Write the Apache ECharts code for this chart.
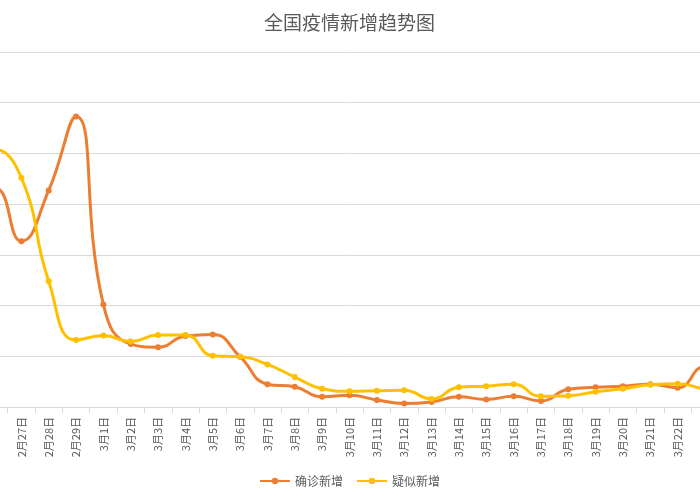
<!DOCTYPE html>
<html>
<head>
<meta charset="utf-8">
<title>全国疫情新增趋势图</title>
<script src="https://cdn.jsdelivr.net/npm/echarts@6/dist/echarts.min.js"></script>
<style>
    html, body {margin: 0; padding: 0; width: 700px; height: 500px; overflow: hidden; background: #fff;}
    /* 图表比窗口宽, 左右两端被裁掉 */
    #graphic {position: absolute; left: -47px; top: 0; width: 793px; height: 500px;}
</style>
</head>
<body>
<div id="graphic"></div>
<script>
// 日期
var days = [
    '2月25日', '2月26日', '2月27日', '2月28日', '2月29日',
    '3月1日', '3月2日', '3月3日', '3月4日', '3月5日', '3月6日', '3月7日', '3月8日',
    '3月9日', '3月10日', '3月11日', '3月12日', '3月13日', '3月14日', '3月15日', '3月16日',
    '3月17日', '3月18日', '3月19日', '3月20日', '3月21日', '3月22日', '3月23日', '3月24日'
];
// 确诊新增
var confirmed = [
    406, 433, 327, 427, 573,
    202, 124, 118, 140, 143, 99, 45, 40,
    20, 23, 14, 7, 10, 20, 15, 21,
    12, 35, 39, 41, 45, 38, 80, 47
];
// 疑似新增
var suspected = [
    440, 508, 452, 248, 132,
    141, 129, 142, 142, 101, 99, 84, 59,
    36, 31, 32, 33, 16, 39, 41, 45,
    21, 22, 30, 36, 44, 46, 35, 30
];
var yTicks = {min: 0, max: 700, interval: 100};

var font = 'Noto Sans CJK SC';
var gray = '#595959';
var lineGray = '#D9D9D9';

function lineSeries(name, data, color){
    return {
        name: name,
        type: 'line',
        smooth: true,
        symbol: 'circle',
        symbolSize: 6,
        data: data,
        itemStyle: {color: color},
        lineStyle: {color: color, width: 3}
    };
}

var option = {
    animation: false,
    title: {
        text: '全国疫情新增趋势图',
        left: 'center',
        top: 8,
        textStyle: {fontFamily: font, fontSize: 19, fontWeight: 'normal', color: gray}
    },
    legend: {
        bottom: 8,
        left: 'center',
        itemWidth: 30,
        itemHeight: 8,
        itemGap: 13,
        textStyle: {fontFamily: font, fontSize: 12, color: gray},
        data: ['确诊新增', '疑似新增']
    },
    grid: {left: 0, right: 0, top: 52, bottom: 93, containLabel: false},
    xAxis: [{
        type: 'category',
        boundaryGap: true,
        data: days,
        axisLine: {lineStyle: {color: lineGray, width: 1}},
        axisTick: {show: true, length: 6, lineStyle: {color: lineGray}},
        axisLabel: {interval: 0, rotate: 90, margin: 10, fontFamily: font, fontSize: 11, color: gray},
        splitLine: {show: false}
    }],
    yAxis: [{
        type: 'value',
        min: yTicks.min,
        max: yTicks.max,
        interval: yTicks.interval,
        axisLine: {show: false},
        axisTick: {show: false},
        axisLabel: {show: false},
        splitLine: {lineStyle: {color: lineGray, width: 1}}
    }],
    series: [
        lineSeries('确诊新增', confirmed, '#ED7D31'),
        lineSeries('疑似新增', suspected, '#FFC000')
    ]
};

var graphic = echarts.init(document.getElementById('graphic'));
graphic.setOption(option);
</script>
</body>
</html>
